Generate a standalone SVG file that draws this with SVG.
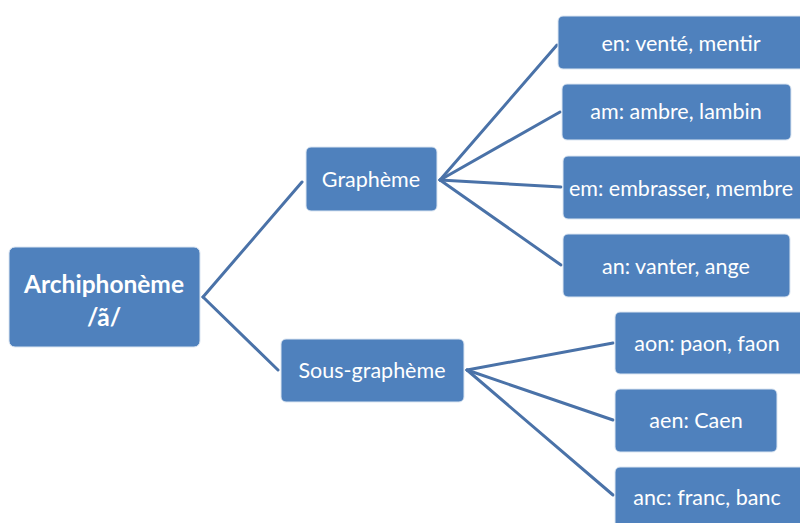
<svg xmlns="http://www.w3.org/2000/svg" width="800" height="523" viewBox="0 0 800 523">
<style>
.box{fill:#4F81BD;stroke:#DCE6F2;stroke-width:1}
.t{font-family:Lato,"Liberation Sans",sans-serif;font-size:21.5px;fill:#FFFFFF;text-anchor:middle;dominant-baseline:central}
.b{font-weight:bold;font-size:24.5px}
.c{stroke:#4A72A8;stroke-width:3;fill:none;stroke-linecap:round}
</style>
<rect width="800" height="523" fill="#FFFFFF"/>
<g id="connectors">
<line class="c" x1="203" y1="297" x2="302" y2="182"/>
<line class="c" x1="203" y1="297" x2="278" y2="370"/>
<line class="c" x1="440" y1="180" x2="557" y2="45"/>
<line class="c" x1="440" y1="180" x2="560" y2="112"/>
<line class="c" x1="440" y1="180" x2="561" y2="187"/>
<line class="c" x1="440" y1="180" x2="561" y2="265"/>
<line class="c" x1="467" y1="370" x2="613" y2="343"/>
<line class="c" x1="467" y1="370" x2="613" y2="420"/>
<line class="c" x1="467" y1="370" x2="613" y2="495"/>
</g>
<g id="archiphoneme">
<rect class="box" x="9" y="247" width="191" height="100" rx="6"/>
<text class="t b" x="104" y="283">Archiphonème</text>
<text class="t b" x="104" y="316">/ã/</text>
</g>
<g id="grapheme">
<rect class="box" x="306" y="147" width="131" height="64" rx="5"/>
<text class="t" x="371" y="179">Graphème</text>
</g>
<g id="sous-grapheme">
<rect class="box" x="281" y="339" width="183" height="63" rx="5"/>
<text class="t" x="372" y="370">Sous-graphème</text>
</g>
<g id="en">
<rect class="box" x="558" y="16" width="250" height="53" rx="5"/>
<text class="t" x="681" y="43">en: venté, mentir</text>
</g>
<g id="am">
<rect class="box" x="562" y="84" width="229" height="56" rx="5"/>
<text class="t" x="676" y="111">am: ambre, lambin</text>
</g>
<g id="em">
<rect class="box" x="563" y="156" width="245" height="63" rx="5"/>
<text class="t" x="681" y="188">em: embrasser, membre</text>
</g>
<g id="an">
<rect class="box" x="563" y="234" width="227" height="63" rx="5"/>
<text class="t" x="676" y="266">an: vanter, ange</text>
</g>
<g id="aon">
<rect class="box" x="615" y="312" width="193" height="62" rx="5"/>
<text class="t" x="707" y="343">aon: paon, faon</text>
</g>
<g id="aen">
<rect class="box" x="615" y="389" width="162" height="63" rx="5"/>
<text class="t" x="696" y="420">aen: Caen</text>
</g>
<g id="anc">
<rect class="box" x="615" y="467" width="193" height="63" rx="5"/>
<text class="t" x="707" y="497">anc: franc, banc</text>
</g>
</svg>
